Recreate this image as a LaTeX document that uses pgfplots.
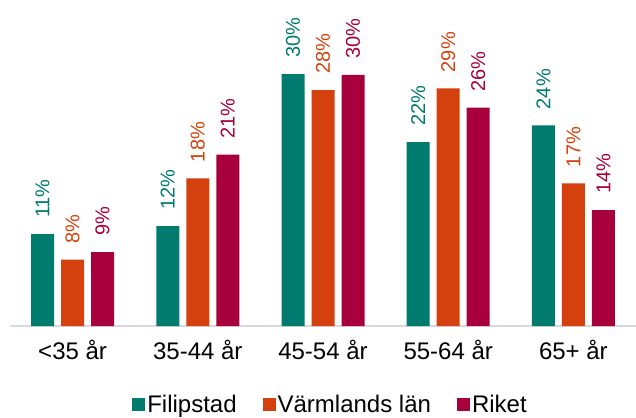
\documentclass[border=0pt]{standalone}
\usepackage{fontspec}
\setmainfont{Liberation Sans}
\usepackage{pgfplots}
\pgfplotsset{compat=1.18}
\definecolor{cteal}{HTML}{007B6E}
\definecolor{corange}{HTML}{D5410E}
\definecolor{ccrimson}{HTML}{A8003C}
\definecolor{caxis}{HTML}{D9D9D9}
\begin{document}
\begin{tikzpicture}
\begin{axis}[
  at={(0,0)}, anchor=south west,
  scale only axis, width=626pt, height=319pt,
  ybar=7pt, bar width=23pt,
  xmin=-0.5, xmax=4.5, ymin=0, ymax=38,
  xtick={0,1,2,3,4},
  xticklabels={<35 år,35-44 år,45-54 år,55-64 år,65+ år},
  xticklabel style={font=\fontsize{24}{26}\selectfont, yshift=-11pt},
  major tick length=0pt,
  ytick=\empty,
  axis y line=none,
  axis x line*=bottom,
  x axis line style={draw=caxis, line width=2pt, -},
  point meta=explicit symbolic,
  nodes near coords,
  every node near coord/.append style={rotate=90, anchor=west, inner xsep=0pt, xshift=0pt,
     font=\fontsize{20}{22}\selectfont},
  legend columns=3,
  legend style={draw=none, fill=none, at={(0.195,-0.247)}, anchor=west, inner sep=0pt,
     font=\fontsize{24}{26}\selectfont,
     /tikz/every even column/.append style={column sep=24pt}},
  legend image code/.code={\fill[#1] (0pt,-6.5pt) rectangle (13pt,6.5pt);},
  clip=false,
]
\addplot[fill=cteal, draw=none, every node near coord/.append style={text=cteal, inner xsep=16pt}] coordinates {
 (0,10.95) [11\%] (1,11.9) [12\%] (2,30.0) [30\%] (3,21.9) [22\%] (4,23.9) [24\%]};
\addplot[fill=corange, draw=none, every node near coord/.append style={text=corange, inner xsep=16pt}] coordinates {
 (0,7.9) [8\%] (1,17.6) [18\%] (2,28.1) [28\%] (3,28.3) [29\%] (4,17.0) [17\%]};
\addplot[fill=ccrimson, draw=none, every node near coord/.append style={text=ccrimson, inner xsep=16pt}] coordinates {
 (0,8.8) [9\%] (1,20.4) [21\%] (2,29.9) [30\%] (3,26.0) [26\%] (4,13.8) [14\%]};
\legend{Filipstad,Värmlands län,Riket}
\end{axis}
\pgfresetboundingbox
\path (-10pt,-91pt) rectangle (626pt,326pt);
\end{tikzpicture}
\end{document}
